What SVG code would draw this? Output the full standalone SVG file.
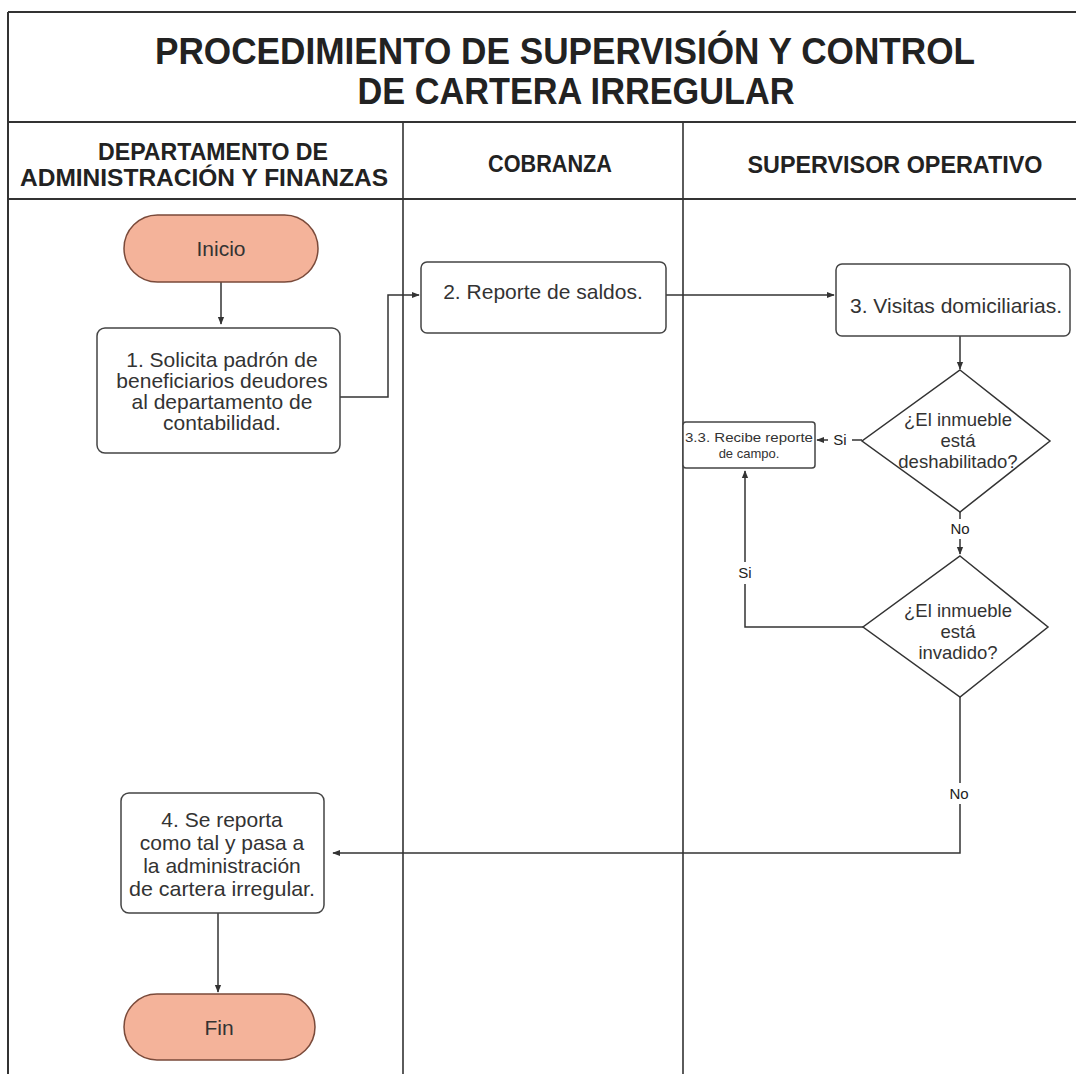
<svg xmlns="http://www.w3.org/2000/svg" width="1076" height="1074" viewBox="0 0 1076 1074">
<defs>
<marker id="arr" viewBox="0 0 10 10" refX="9" refY="5" markerWidth="8" markerHeight="8" orient="auto" markerUnits="userSpaceOnUse">
<path d="M0,1 L10,5 L0,9 z" fill="#333"/>
</marker>
<style>
.frame{fill:none;stroke:#333;stroke-width:2}
.lane{fill:none;stroke:#333;stroke-width:1.6}
.box{fill:#fff;stroke:#444;stroke-width:1.5}
.term{fill:#f4b39a;stroke:#7a4a3a;stroke-width:1.5}
.dia{fill:#fff;stroke:#333;stroke-width:1.5}
.conn{fill:none;stroke:#333;stroke-width:1.5}
.title{font-family:"Liberation Sans",Arial,sans-serif;font-weight:bold;font-size:37px;fill:#222;text-anchor:middle}
.head{font-family:"Liberation Sans",Arial,sans-serif;font-weight:bold;font-size:23px;fill:#222;text-anchor:middle}
.t{font-family:"Liberation Sans",Arial,sans-serif;font-size:21px;fill:#333;text-anchor:middle}
.td{font-family:"Liberation Sans",Arial,sans-serif;font-size:18.5px;fill:#333;text-anchor:middle}
.ts{font-family:"Liberation Sans",Arial,sans-serif;font-size:13px;fill:#333;text-anchor:middle}
.lbl{font-family:"Liberation Sans",Arial,sans-serif;font-size:15px;fill:#222;text-anchor:middle}
</style>
</defs>
<rect width="1076" height="1074" fill="#fff"/>
<g id="frame">
<line class="frame" x1="8" y1="12" x2="1076" y2="12"/>
<line class="frame" x1="8" y1="12" x2="8" y2="1074"/>
<line class="frame" x1="8" y1="122" x2="1076" y2="122"/>
<line class="frame" x1="8" y1="199" x2="1076" y2="199"/>
<line class="lane" x1="403" y1="122" x2="403" y2="1074"/>
<line class="lane" x1="683" y1="122" x2="683" y2="1074"/>
<text class="title" x="565" y="64" textLength="820" lengthAdjust="spacingAndGlyphs">PROCEDIMIENTO DE SUPERVISIÓN Y CONTROL</text>
<text class="title" x="576" y="104" textLength="437" lengthAdjust="spacingAndGlyphs">DE CARTERA IRREGULAR</text>
<text class="head" x="213" y="160" textLength="230" lengthAdjust="spacingAndGlyphs">DEPARTAMENTO DE</text>
<text class="head" x="204" y="186" textLength="368" lengthAdjust="spacingAndGlyphs">ADMINISTRACIÓN Y FINANZAS</text>
<text class="head" x="550" y="172" textLength="124" lengthAdjust="spacingAndGlyphs">COBRANZA</text>
<text class="head" x="895" y="173" textLength="295" lengthAdjust="spacingAndGlyphs">SUPERVISOR OPERATIVO</text>
</g>
<g id="connectors">
<line class="conn" x1="221" y1="282" x2="221" y2="324" marker-end="url(#arr)"/>
<polyline class="conn" points="340,397 388,397 388,295 419,295" marker-end="url(#arr)"/>
<line class="conn" x1="666" y1="295" x2="834" y2="295" marker-end="url(#arr)"/>
<line class="conn" x1="960" y1="336" x2="960" y2="369" marker-end="url(#arr)"/>
<line class="conn" x1="862" y1="440" x2="852" y2="440"/>
<line class="conn" x1="828" y1="440" x2="817" y2="440" marker-end="url(#arr)"/>
<text class="lbl" x="840" y="445">Si</text>
<line class="conn" x1="960" y1="512" x2="960" y2="519"/>
<text class="lbl" x="960" y="534">No</text>
<line class="conn" x1="960" y1="539" x2="960" y2="554" marker-end="url(#arr)"/>
<polyline class="conn" points="863,627 745,627 745,584"/>
<text class="lbl" x="745" y="578">Si</text>
<line class="conn" x1="745" y1="562" x2="745" y2="471" marker-end="url(#arr)"/>
<line class="conn" x1="960" y1="697" x2="960" y2="783"/>
<text class="lbl" x="959" y="799">No</text>
<polyline class="conn" points="960,804 960,853 333,853" marker-end="url(#arr)"/>
<line class="conn" x1="218" y1="913" x2="218" y2="992" marker-end="url(#arr)"/>
</g>
<g id="inicio">
<rect class="term" x="124" y="215" width="194" height="67" rx="33.5"/>
<text class="t" x="221" y="256">Inicio</text>
</g>
<g id="n1">
<rect class="box" x="97" y="328" width="243" height="125" rx="8"/>
<text class="t" x="222" y="367">1. Solicita padrón de</text>
<text class="t" x="222" y="388">beneficiarios deudores</text>
<text class="t" x="222" y="409">al departamento de</text>
<text class="t" x="222" y="430">contabilidad.</text>
</g>
<g id="n2">
<rect class="box" x="421" y="262" width="245" height="71" rx="6"/>
<text class="t" x="543" y="299">2. Reporte de saldos.</text>
</g>
<g id="n3">
<rect class="box" x="836" y="264" width="234" height="72" rx="6"/>
<text class="t" x="956" y="313">3. Visitas domiciliarias.</text>
</g>
<g id="d1">
<polygon class="dia" points="960,370 1050,441 960,512 862,441"/>
<text class="td" x="958" y="426">¿El inmueble</text>
<text class="td" x="958" y="447">está</text>
<text class="td" x="958" y="468">deshabilitado?</text>
</g>
<g id="n33">
<rect class="box" x="683" y="422" width="132" height="46" rx="3"/>
<text class="ts" x="749" y="442" textLength="128" lengthAdjust="spacingAndGlyphs">3.3. Recibe reporte</text>
<text class="ts" x="749" y="458">de campo.</text>
</g>
<g id="d2">
<polygon class="dia" points="960,556 1048,627 960,697 863,627"/>
<text class="td" x="958" y="617">¿El inmueble</text>
<text class="td" x="958" y="638">está</text>
<text class="td" x="958" y="659">invadido?</text>
</g>
<g id="n4">
<rect class="box" x="121" y="793" width="203" height="120" rx="8"/>
<text class="t" x="222" y="827">4. Se reporta</text>
<text class="t" x="222" y="850">como tal y pasa a</text>
<text class="t" x="222" y="873">la administración</text>
<text class="t" x="222" y="896" textLength="186" lengthAdjust="spacingAndGlyphs">de cartera irregular.</text>
</g>
<g id="fin">
<rect class="term" x="124" y="994" width="191" height="66" rx="33"/>
<text class="t" x="219" y="1035">Fin</text>
</g>
</svg>
